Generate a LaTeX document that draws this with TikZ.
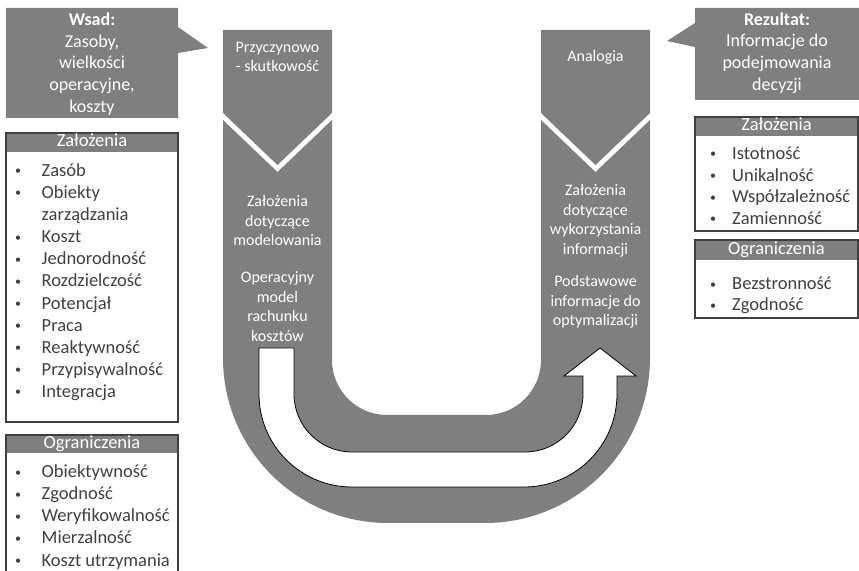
\documentclass[tikz,border=0pt]{standalone}
\usepackage{fontspec}
\setmainfont{Carlito}
\usetikzlibrary{positioning}

\definecolor{ugray}{HTML}{7F7F7F}
\definecolor{edgegray}{HTML}{404040}
\definecolor{txtgray}{HTML}{404040}

\newcommand{\ibul}{\hspace{1.5pt}\raisebox{1.6pt}{\fontsize{12}{12}\selectfont\textbullet}}

\tikzset{
	ushape/.style={fill=ugray, draw=none},
	turnarrow/.style={fill=white, draw=black, line width=0.8pt, line join=miter},
	armtext/.style={text=white, align=center, inner sep=0pt, font=\fontsize{16}{19.5}\selectfont},
	callouttext/.style={text=white, align=center, inner sep=0pt, font=\fontsize{18}{21.8}\selectfont},
	headtext/.style={text=white, inner sep=0pt, text height=12pt, text depth=3.5pt, font=\fontsize{18.5}{22}\selectfont},
	itemlist/.style={text=txtgray, inner sep=0pt, anchor=base west},
	listbox/.style={draw=edgegray, line width=2pt, fill=white},
}

\begin{document}
\begin{tikzpicture}[x=1pt, y=1pt]
	\useasboundingbox (0,0) rectangle (859,570);
	
	% callouts
	\fill[ugray] (6,562) -- (178,562) -- (178,543) -- (208,522) -- (178,517) -- (178,452) -- (6,452) -- cycle;
	\fill[ugray] (695,562) -- (859,562) -- (859,470) -- (695,470) -- (695,523) -- (667,529) -- (695,547) -- cycle;
	\node[callouttext] (wsad) at (92,506) {\textbf{Wsad:}\\Zasoby,\\wielkości\\operacyjne,\\koszty};
	\node[callouttext] (rezultat) at (777,517) {\textbf{Rezultat:}\\Informacje do\\podejmowania\\decyzji};
	
	% U
	\path[ushape] (223,540) -- (332,540) -- (332,457) -- (277.5,405) -- (223,457) -- cycle;
	\path[ushape] (541,540) -- (650,540) -- (650,457) -- (595.5,405) -- (541,457) -- cycle;
	\path[ushape] (223,450) -- (277.5,398) -- (332,450) -- (332,210)
	arc[start angle=180, end angle=270, radius=55] -- (486,155)
	arc[start angle=270, end angle=360, radius=55] -- (541,450) -- (595.5,398) -- (650,450) -- (650,212)
	arc[start angle=0, end angle=-90, radius=165] -- (388,47)
	arc[start angle=270, end angle=180, radius=165] -- cycle;
	
	\path[turnarrow] (259,222) -- (294,222) -- (294,176)
	arc[start angle=180, end angle=270, radius=58] -- (525,118)
	arc[start angle=270, end angle=360, radius=58] -- (583,194) -- (564,194) -- (600,222) -- (636,194) -- (617,194) -- (617,176)
	arc[start angle=0, end angle=-90, radius=93] -- (352,83)
	arc[start angle=270, end angle=180, radius=93] -- cycle;
	
	\node[armtext] (przycz) at (277.5,513) {Przyczynowo\\- skutkowość};
	\node[armtext] (zalmod) at (277.5,349) {Założenia\\dotyczące\\modelowania};
	\node[armtext] (opmodel) at (277.5,263.5) {Operacyjny\\model\\rachunku\\kosztów};
	\node[armtext] (analog) at (595.5,513) {Analogia};
	\node[armtext] (zalinf) at (595.5,349) {Założenia\\dotyczące\\wykorzystania\\informacji};
	\node[armtext] (podst) at (595.5,268) {Podstawowe\\informacje do\\optymalizacji};
	
	% left lists
	\draw[listbox] (6,437) rectangle (178,148);
	\fill[ugray] (7,436) rectangle (177,418);
	\draw[edgegray, line width=2pt] (6,437) rectangle (178,148);
	\node[headtext] (zalLhead) at (92,427.5) {Założenia};
	\node[itemlist] (zalL) at (13.5,393.5) {\fontsize{18.5}{22.1}\selectfont
		\begin{tabular}[t]{@{}p{28pt}@{}l@{}}
			\ibul & Zasób\\
			\ibul & Obiekty\\
			& zarządzania\\
			\ibul & Koszt\\
			\ibul & Jednorodność\\
			\ibul & Rozdzielczość\\
			\ibul & Potencjał\\
			\ibul & Praca\\
			\ibul & Reaktywność\\
			\ibul & Przypisywalność\\
			\ibul & Integracja
		\end{tabular}};
	
	\draw[listbox] (6,135) rectangle (178,-10);
	\fill[ugray] (7,134) rectangle (177,117);
	\draw[edgegray, line width=2pt] (6,135) rectangle (178,-10);
	\node[headtext] (ogrLhead) at (92,126) {Ograniczenia};
	\node[itemlist] (ogrL) at (13.5,92) {\fontsize{18.5}{22}\selectfont
		\begin{tabular}[t]{@{}p{28pt}@{}l@{}}
			\ibul & Obiektywność\\
			\ibul & Zgodność\\
			\ibul & Weryfikowalność\\
			\ibul & Mierzalność\\
			\ibul & Koszt utrzymania
		\end{tabular}};
	
	% right lists
	\draw[listbox] (695,453) rectangle (858,339);
	\fill[ugray] (696,452) rectangle (857,434);
	\draw[edgegray, line width=2pt] (695,453) rectangle (858,339);
	\node[headtext] (zalRhead) at (776.5,443.5) {Założenia};
	\node[itemlist] (zalR) at (708.5,410.5) {\fontsize{18.5}{21.7}\selectfont
		\begin{tabular}[t]{@{}p{23.5pt}@{}l@{}}
			\ibul & Istotność\\
			\ibul & Unikalność\\
			\ibul & Współzależność\\
			\ibul & Zamienność
		\end{tabular}};
	
	\draw[listbox] (695,330) rectangle (858,252);
	\fill[ugray] (696,329) rectangle (857,310);
	\draw[edgegray, line width=2pt] (695,330) rectangle (858,252);
	\node[headtext] (ogrRhead) at (776.5,320) {Ograniczenia};
	\node[itemlist] (ogrR) at (708.5,280) {\fontsize{18.5}{21}\selectfont
		\begin{tabular}[t]{@{}p{23.5pt}@{}l@{}}
			\ibul & Bezstronność\\
			\ibul & Zgodność
		\end{tabular}};
\end{tikzpicture}
\end{document}
